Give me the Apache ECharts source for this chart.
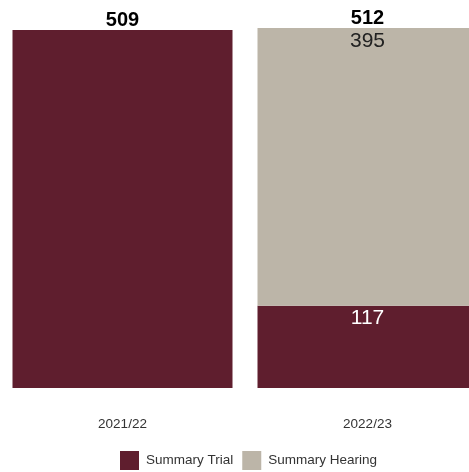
<!DOCTYPE html>
<html>
<head>
<meta charset="utf-8">
<script src="https://cdn.jsdelivr.net/npm/echarts@6/dist/echarts.min.js"></script>
<style>
  html, body { margin: 0; padding: 0; background: #fff; }
  #chart { width: 469px; height: 472px; }
</style>
</head>
<body>
<div id="chart"></div>
<script>
// data
const years = ['2021/22', '2022/23']
const summaryTrial = [509, 117]
const summaryHearing = [0, 395]
const totals = [509, 512]

const chart = echarts.init(document.getElementById('chart'))

const option = {
  animation: false,
  legend: {
    data: ['Summary Trial', 'Summary Hearing'],
    left: 120,
    top: 451,
    padding: 0,
    itemWidth: 19,
    itemHeight: 19,
    itemGap: 9,
    icon: 'rect',
    textStyle: {
      fontFamily: 'Liberation Sans, Arial',
      fontSize: 13.5,
      color: '#333',
      padding: [2, 0, 0, 2]
    }
  },
  grid: {
    left: 0,
    top: 28,
    width: 490,
    bottom: 84,
    outerBoundsMode: 'none'
  },
  xAxis: {
    type: 'category',
    data: years,
    axisLine: { show: false },
    axisTick: { show: false },
    axisLabel: {
      margin: 29,
      fontFamily: 'Liberation Sans, Arial',
      fontSize: 13.5,
      color: '#333'
    }
  },
  yAxis: {
    type: 'value',
    min: 0,
    max: 512,
    show: false
  },
  series: [
    {
      name: 'Summary Trial',
      type: 'bar',
      stack: 'a',
      barWidth: 220,
      itemStyle: { color: '#5F1E2E' },
      data: summaryTrial.map((v, i) => ({
        value: v,
        label: { show: summaryHearing[i] > 0 }
      })),
      label: {
        position: 'insideTop',
        distance: 2,
        fontFamily: 'Liberation Sans, Arial',
        fontSize: 21,
        color: '#fff'
      }
    },
    {
      name: 'Summary Hearing',
      type: 'bar',
      stack: 'a',
      barWidth: 220,
      itemStyle: { color: '#BCB5A8' },
      data: summaryHearing.map(v => ({
        value: v,
        label: { show: v > 0 }
      })),
      label: {
        position: 'insideTop',
        distance: 3,
        fontFamily: 'Liberation Sans, Arial',
        fontSize: 21,
        color: '#222'
      }
    },
    {
      name: 'Total',
      type: 'bar',
      stack: 'a',
      barWidth: 220,
      itemStyle: { color: 'transparent' },
      data: totals.map(() => 0),
      label: {
        show: true,
        position: 'top',
        distance: 0,
        formatter: p => totals[p.dataIndex],
        fontFamily: 'Liberation Sans, Arial',
        fontSize: 20,
        fontWeight: 'bold',
        color: '#000'
      }
    }
  ]
}

chart.setOption(option)
</script>
</body>
</html>
